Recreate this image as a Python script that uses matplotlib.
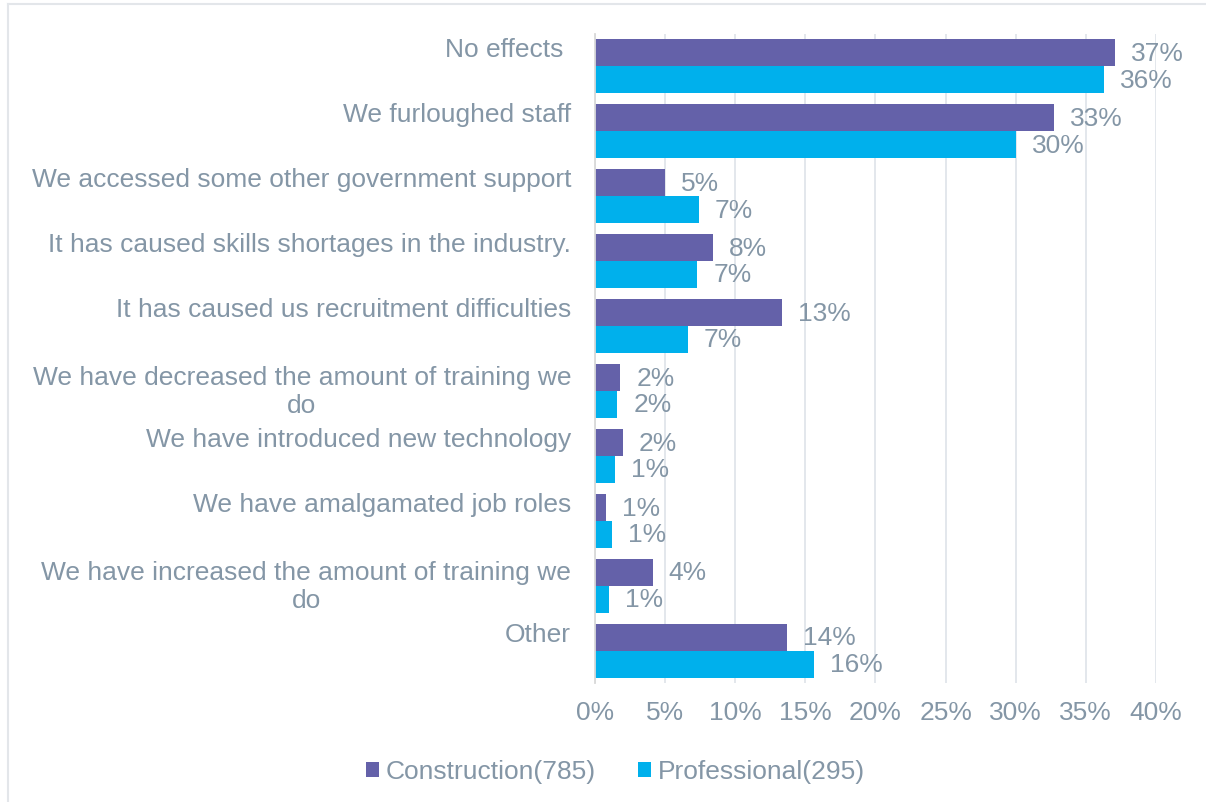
import matplotlib.pyplot as plt
from matplotlib.lines import Line2D
import numpy as np

plt.rcParams['font.family'] = ['Liberation Sans', 'DejaVu Sans']

categories = [
    'No effects ',
    'We furloughed staff',
    'We accessed some other government support',
    'It has caused skills shortages in the industry.',
    'It has caused us recruitment difficulties',
    'We have decreased the amount of training we\ndo',
    'We have introduced new technology',
    'We have amalgamated job roles',
    'We have increased the amount of training we\ndo',
    'Other',
]
construction = [37.1, 32.7, 5.0, 8.4, 13.3, 1.8, 2.0, 0.8, 4.1, 13.7]
professional = [36.3, 30.0, 7.4, 7.3, 6.6, 1.6, 1.4, 1.2, 1.0, 15.6]
series_names = ['Construction(785)', 'Professional(295)']
xticks = [0, 5, 10, 15, 20, 25, 30, 35, 40]

purple = '#6461A9'
cyan = '#00B0EC'
text_col = '#8496A6'
grid_col = '#E1E5EA'
fs = 19

fig = plt.figure(figsize=(12.06, 8.03), dpi=100)
ax = fig.add_axes([0.4934, 0.1476, 0.4651, 0.8094])

y = np.arange(len(categories))
h = 0.415
b1 = ax.barh(y - h / 2, construction, height=h, color=purple, label=series_names[0], zorder=3)
b2 = ax.barh(y + h / 2, professional, height=h, color=cyan, label=series_names[1], zorder=3)

# value labels just right of each bar
for bars, vals in [(b1, construction), (b2, professional)]:
    for bar, v in zip(bars, vals):
        ax.annotate('%d%%' % round(v), (v, bar.get_y() + bar.get_height() / 2),
                    xytext=(16, 0), textcoords='offset pixels',
                    ha='left', va='center', fontsize=fs, color=text_col)

ax.set_ylim(len(categories) - 0.5, -0.5)
ax.set_xlim(0, 40)
ax.set_xticks(xticks)
ax.set_xticklabels(['%d%%' % t for t in xticks])
ax.set_yticks(y)
ax.set_yticklabels([])

# category labels: wrapped ones centred on the group, single lines level with the top bar
ytrans = ax.get_yaxis_transform()
for i, cat in enumerate(categories):
    yy = i if '\n' in cat else i - 0.26
    ax.annotate(cat, (0, yy), xycoords=ytrans, xytext=(-24, 0), textcoords='offset pixels',
                ha='right', va='center', multialignment='center',
                fontsize=fs, color=text_col, linespacing=1.2)

ax.tick_params(axis='both', length=0, labelsize=fs, labelcolor=text_col)
ax.tick_params(axis='x', pad=12)
ax.xaxis.grid(True, color=grid_col, linewidth=1.3, zorder=0)
for s in ['top', 'right', 'bottom']:
    ax.spines[s].set_visible(False)
ax.spines['left'].set_color('#D9D9D9')
ax.spines['left'].set_linewidth(1.3)
ax.spines['left'].set_zorder(4)

fig.legend(loc='center', bbox_to_anchor=(0.51, 0.038), ncol=2, frameon=False,
           fontsize=fs, labelcolor=text_col, handlelength=0.5, handleheight=0.5,
           handletextpad=0.25, columnspacing=1.6)

# outer chart border (top and left edges visible)
fig.add_artist(Line2D([0.0066, 0.0066], [0, 0.9938], transform=fig.transFigure,
                      color='#E3E6EA', linewidth=1.5))
fig.add_artist(Line2D([0.0066, 1], [0.9938, 0.9938], transform=fig.transFigure,
                      color='#E3E6EA', linewidth=1.5))

fig.savefig('out.png', dpi=100)
